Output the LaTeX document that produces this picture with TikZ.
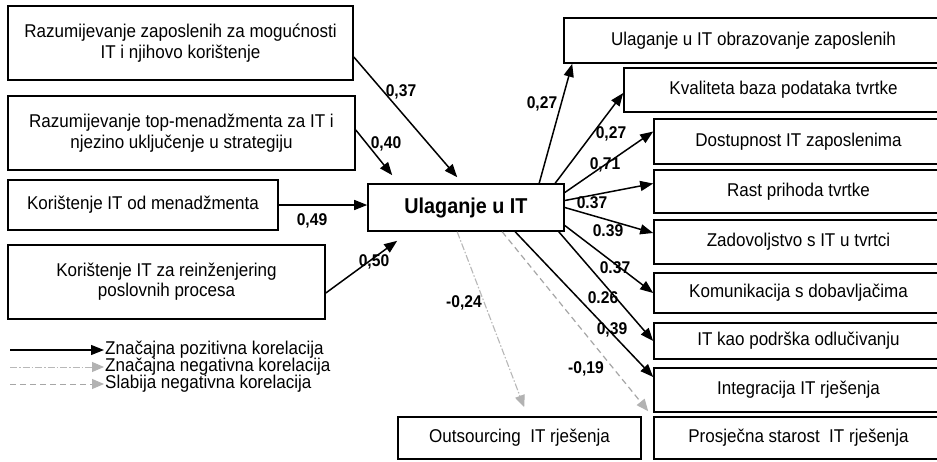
\documentclass[tikz,border=0pt]{standalone}
\usepackage{fontspec}
\setmainfont{Liberation Sans}[FakeStretch=0.92]
\usetikzlibrary{arrows.meta}
\begin{document}
\begin{tikzpicture}[x=1pt,y=-1pt,
  rbox/.style={draw=black, line width=1.6pt, fill=white, inner sep=0pt, align=center,
    font=\fontsize{18.5}{21}\selectfont},
  cbox/.style={rbox, font=\bfseries\fontsize{21.5}{24}\selectfont},
  posarrow/.style={line width=1.5pt, -{Triangle[length=13pt,width=10pt]}},
  negarrow/.style={draw=black!28, line width=1.1pt, dash pattern=on 7pt off 2pt on 1.5pt off 2pt,
    -{Triangle[length=12pt,width=10pt,color=black!30]}},
  weakarrow/.style={draw=black!35, line width=1.2pt, dash pattern=on 6pt off 4pt,
    -{Triangle[length=12pt,width=10pt,color=black!30]}},
  numlbl/.style={inner sep=0pt, font=\bfseries\fontsize{17}{17}\selectfont},
  legtext/.style={inner sep=1pt, anchor=west, font=\fontsize{18.5}{21}\selectfont}]
\fill[white] (0,0) rectangle (937,461);
\useasboundingbox (0,0) rectangle (937,461);

% left boxes
\node[rbox, minimum width=345pt, minimum height=74pt] (b1) at (180.5,43)
  {Razumijevanje zaposlenih za mogućnosti\\IT i njihovo korištenje};
\node[rbox, minimum width=347pt, minimum height=74pt] (b2) at (181.5,133)
  {Razumijevanje top-menadžmenta za IT i\\njezino uključenje u strategiju};
\node[rbox, minimum width=270pt, minimum height=50pt] (b3) at (143,205)
  {Korištenje IT od menadžmenta};
\node[rbox, minimum width=317pt, minimum height=74pt] (b4) at (166.5,282)
  {\raisebox{6pt}{\begin{tabular}{@{}c@{}}Korištenje IT za reinženjering\\[-1pt]poslovnih procesa\end{tabular}}};

% center
\node[cbox, minimum width=196pt, minimum height=47pt] (c) at (466,207.5) {Ulaganje u IT};

% right boxes
\node[rbox, minimum width=379pt, minimum height=45pt] (r1) at (753.5,40.5) {Ulaganje u IT obrazovanje zaposlenih};
\node[rbox, minimum width=319pt, minimum height=44pt] (r2) at (783.5,90) {Kvaliteta baza podataka tvrtke};
\node[rbox, minimum width=289pt, minimum height=45pt] (r3) at (798.5,141.5) {Dostupnost IT zaposlenima};
\node[rbox, minimum width=289pt, minimum height=43pt] (r4) at (798.5,191.5) {Rast prihoda tvrtke};
\node[rbox, minimum width=289pt, minimum height=44pt] (r5) at (798.5,242) {Zadovoljstvo s IT u tvrtci};
\node[rbox, minimum width=289pt, minimum height=40pt] (r6) at (798.5,293) {Komunikacija s dobavljačima};
\node[rbox, minimum width=289pt, minimum height=36pt] (r7) at (798.5,341) {IT kao podrška odlučivanju};
\node[rbox, minimum width=289pt, minimum height=44pt] (r8) at (798.5,390) {Integracija IT rješenja};
\node[rbox, minimum width=289pt, minimum height=42pt] (r9) at (798.5,438) {Prosječna starost\ \ IT rješenja};
\node[rbox, minimum width=243pt, minimum height=42pt] (out) at (519.5,438) {Outsourcing\ \ IT rješenja};

% input arrows
\draw[posarrow] ([yshift=-14pt]b1.east) -- ([xshift=90pt,yshift=6pt]c.north west);
\draw[posarrow] ([yshift=3pt]b2.east) -- ([xshift=25pt,yshift=8pt]c.north west);
\draw[posarrow] (b3.east) -- (b3.east -| c.west);
\draw[posarrow] ([yshift=-11pt]b4.east) -- ([xshift=30pt,yshift=-9pt]c.south west);

% output arrows
\draw[posarrow] ([xshift=172pt]c.north west) -- ([xshift=9pt]r1.south west);
\draw[posarrow] ([xshift=188pt]c.north west) -- ([yshift=-3pt]r2.west);
\draw[posarrow] ([yshift=15pt]c.east) -- ([yshift=10pt]r3.west);
\draw[posarrow] ([yshift=7pt]c.east) -- ([yshift=8pt]r4.west);
\draw[posarrow] (c.east) -- ([yshift=9pt]r5.west);
\draw[posarrow] ([yshift=-18pt]c.east) -- (r6.west);
\draw[posarrow] ([xshift=-6pt]c.south east) -- (r7.west);
\draw[posarrow] ([xshift=148pt]c.south west) -- ([yshift=13pt]r8.west);
\draw[weakarrow] ([xshift=135pt]c.south west) -- ([xshift=-5pt,yshift=5pt]r9.north west);
\draw[negarrow] ([xshift=90pt]c.south west) -- ([xshift=127pt,yshift=9pt]out.north west);

% labels
\node[numlbl] (n1) at (401,92) {0,37};
\node[numlbl] (n2) at (386,144) {0,40};
\node[numlbl] (n3) at (312,221) {0,49};
\node[numlbl] (n4) at (374,262) {0,50};
\node[numlbl] (n5) at (542,104) {0,27};
\node[numlbl] (n6) at (611,134) {0,27};
\node[numlbl] (n7) at (605,165) {0,71};
\node[numlbl] (n8) at (592,203) {0.37};
\node[numlbl] (n9) at (608,231) {0.39};
\node[numlbl] (n10) at (615,268) {0.37};
\node[numlbl] (n11) at (603,298) {0.26};
\node[numlbl] (n12) at (612,330) {0,39};
\node[numlbl] (n13) at (586,369) {-0,19};
\node[numlbl] (n14) at (464,303) {-0,24};

% legend
\coordinate (l1s) at (10,350);
\coordinate (l2s) at (10,367);
\coordinate (l3s) at (10,384);
\node[legtext] (l1) at (104,350) {Značajna pozitivna korelacija};
\node[legtext] (l2) at (104,367) {Značajna negativna korelacija};
\node[legtext] (l3) at (104,384) {Slabija negativna korelacija};
\draw[posarrow, line width=1.3pt] (l1s) -- (l1.west);
\draw[negarrow, line width=0.9pt] (l2s) -- (l2.west);
\draw[weakarrow, line width=0.9pt] (l3s) -- (l3.west);
\end{tikzpicture}
\end{document}
